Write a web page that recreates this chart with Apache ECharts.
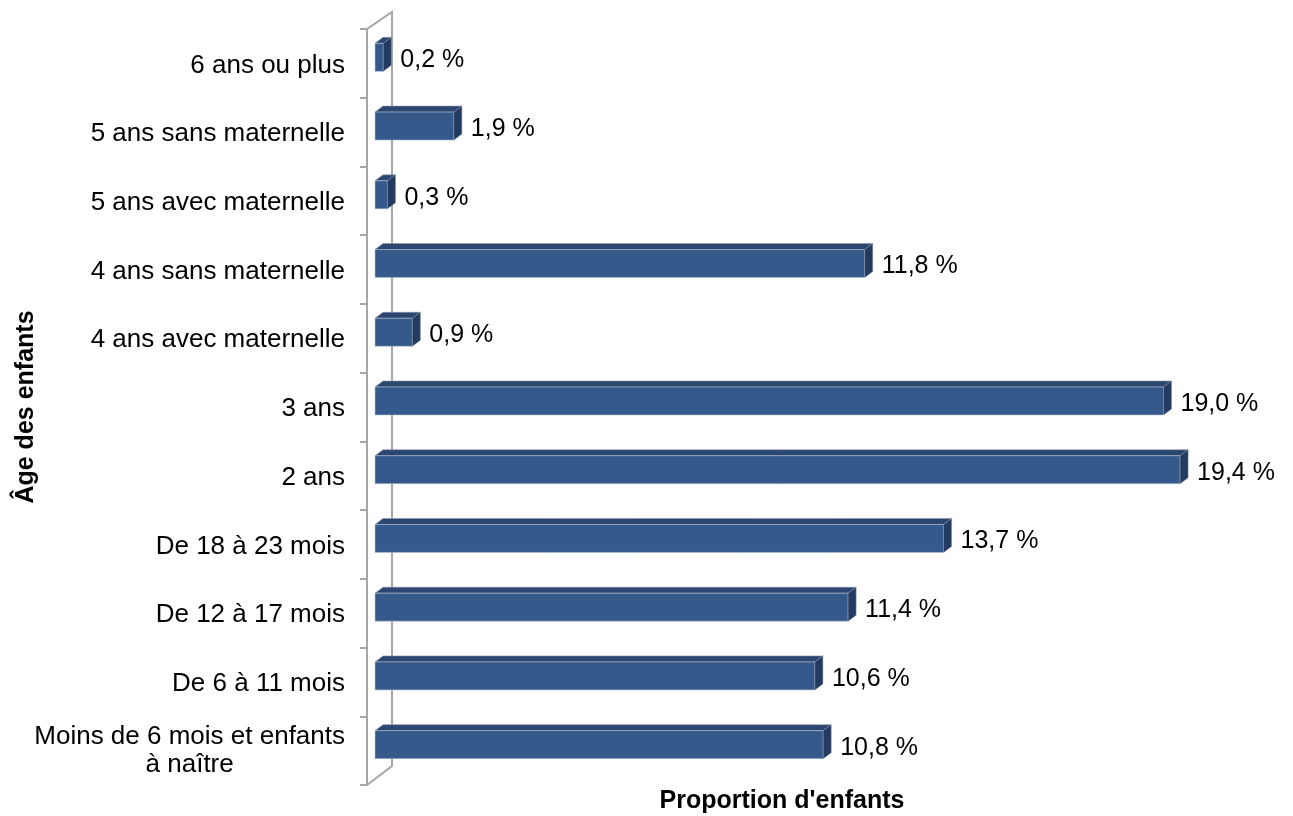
<!DOCTYPE html>
<html>
<head>
<meta charset="utf-8">
<script src="https://cdn.jsdelivr.net/npm/echarts@6/dist/echarts.min.js"></script>
<style>
  html, body { margin: 0; padding: 0; background: #ffffff; }
  #chart { width: 1293px; height: 816px; }
</style>
</head>
<body>
<div id="chart"></div>
<script>
// Age groups, listed from top to bottom
const categories = [
  '6 ans ou plus',
  '5 ans sans maternelle',
  '5 ans avec maternelle',
  '4 ans sans maternelle',
  '4 ans avec maternelle',
  '3 ans',
  '2 ans',
  'De 18 à 23 mois',
  'De 12 à 17 mois',
  'De 6 à 11 mois',
  'Moins de 6 mois et enfants\nà naître'
];
// Share of children in each age group (%)
const values = [0.2, 1.9, 0.3, 11.8, 0.9, 19.0, 19.4, 13.7, 11.4, 10.6, 10.8];

const FONT = '"Liberation Sans", Arial, sans-serif';
const CAT_SIZE = 26;
const VAL_SIZE = 25;
const WALL = '#a6a6a6';
// bars stand slightly in front of the side wall
const BAR_INSET = 8;
const DEPTH_X = 8, DEPTH_Y = 6, BAR_H = 28, BAR_SHIFT = -6;
const WALL_DX = 25, WALL_DY = 17;

function fmtPct(v) {
  return v.toFixed(1).replace('.', ',') + ' %';
}

// width of the widest line of a multi-line label, used to center its lines
const ctx = document.createElement('canvas').getContext('2d');
ctx.font = CAT_SIZE + 'px ' + FONT;
function lineWidth(s) {
  return Math.max.apply(null, s.split('\n').map(l => ctx.measureText(l).width));
}

const chart = echarts.init(document.getElementById('chart'), null, { renderer: 'canvas' });

// 3D bar: front face, top face and right side face, with its value label
function renderBar(params, api) {
  const v = api.value(0);
  const ci = api.value(1);
  const p0 = api.coord([0, ci]);
  const p1 = api.coord([v, ci]);
  const cy = p0[1] + BAR_SHIFT;
  const x0 = p0[0] + BAR_INSET, x1 = p1[0] + BAR_INSET;
  const top = cy - BAR_H / 2, bot = cy + BAR_H / 2;
  return {
    type: 'group',
    children: [
      {
        type: 'polygon',
        shape: { points: [[x0, top], [x1, top], [x1 + DEPTH_X, top - DEPTH_Y], [x0 + DEPTH_X, top - DEPTH_Y]] },
        style: { fill: '#2b4670', stroke: '#8e97a6', lineWidth: 0.6 }
      },
      {
        type: 'rect',
        shape: { x: x0, y: top, width: x1 - x0, height: BAR_H },
        style: { fill: '#34598a', stroke: '#b9c3d3', lineWidth: 0.6 }
      },
      {
        type: 'polygon',
        shape: { points: [[x1, top], [x1 + DEPTH_X, top - DEPTH_Y], [x1 + DEPTH_X, bot - DEPTH_Y], [x1, bot]] },
        style: { fill: '#233b60', stroke: '#7f8aa0', lineWidth: 0.5 }
      },
      {
        type: 'text',
        style: {
          x: x1 + DEPTH_X + 9,
          y: cy + 3,
          text: fmtPct(v),
          font: VAL_SIZE + 'px ' + FONT,
          fill: '#000000',
          verticalAlign: 'middle',
          align: 'left'
        }
      }
    ]
  };
}

// back edge of the side wall and its top/bottom edges
function renderWall(params, api) {
  const cs = params.coordSys;
  const fx = cs.x;               // front edge (drawn by the category axis line)
  const bx = cs.x + WALL_DX;     // back edge
  const top = cs.y, bottom = cs.y + cs.height;
  return {
    type: 'polyline',
    shape: { points: [[fx, top], [bx, top - WALL_DY], [bx, bottom - WALL_DY - 2], [fx, bottom]] },
    style: { stroke: WALL, lineWidth: 2, fill: null }
  };
}

const lastW = lineWidth(categories[categories.length - 1]);

chart.setOption({
  animation: false,
  backgroundColor: '#ffffff',
  grid: { left: 367, right: 96, top: 29, bottom: 31, containLabel: false, outerBoundsMode: 'none' },
  xAxis: {
    type: 'value',
    min: 0,
    max: 20,
    axisLine: { show: false },
    axisTick: { show: false },
    axisLabel: { show: false },
    splitLine: { show: false },
    name: "Proportion d'enfants",
    nameLocation: 'middle',
    nameGap: 4,
    nameMoveOverlap: false,
    nameTextStyle: {
      fontFamily: FONT, fontSize: VAL_SIZE, fontWeight: 'bold', color: '#000000'
    }
  },
  yAxis: {
    type: 'category',
    data: categories,
    inverse: true,
    axisLine: { show: true, lineStyle: { color: WALL, width: 2 } },
    axisTick: { show: true, length: 7, inside: false, lineStyle: { color: WALL, width: 2 } },
    axisLabel: {
      margin: 22,
      fontFamily: FONT,
      fontSize: CAT_SIZE,
      color: '#000000',
      lineHeight: 28,
      formatter: function (val) {
        if (val.indexOf('\n') >= 0) {
          return val.split('\n').map(l => '{c|' + l + '}').join('\n');
        }
        return '{s|' + val + '}';
      },
      rich: {
        s: { fontFamily: FONT, fontSize: CAT_SIZE, lineHeight: 28, color: '#000000', padding: [4, 0, 0, 0] },
        c: { width: lastW, align: 'center', fontFamily: FONT, fontSize: CAT_SIZE, lineHeight: 28, color: '#000000' }
      }
    },
    splitLine: { show: false },
    name: 'Âge des enfants',
    nameLocation: 'middle',
    nameRotate: 90,
    nameGap: 328,
    nameMoveOverlap: false,
    nameTextStyle: { fontFamily: FONT, fontSize: VAL_SIZE, fontWeight: 'bold', color: '#000000' }
  },
  series: [
    {
      type: 'custom',
      renderItem: renderWall,
      data: [[0, 0]],
      encode: { x: 0, y: 1 },
      z: 1,
      silent: true
    },
    {
      type: 'custom',
      renderItem: renderBar,
      data: values.map((v, i) => [v, i]),
      encode: { x: 0, y: 1 },
      z: 3,
      clip: false
    }
  ]
});
</script>
</body>
</html>
